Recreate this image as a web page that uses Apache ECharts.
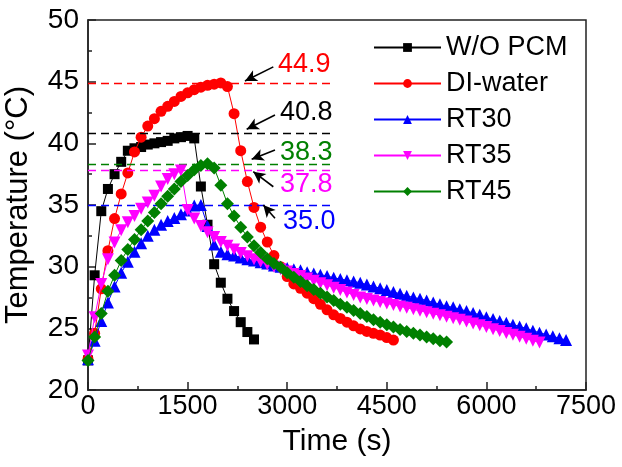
<!DOCTYPE html>
<html><head><meta charset="utf-8">
<script src="https://cdn.jsdelivr.net/npm/echarts@6/dist/echarts.min.js"></script>
<style>html,body{margin:0;padding:0;background:#fff}#c{width:622px;height:467px}</style>
</head><body><div id="c"></div>
<script>
// ---- data ----
const STEP_S = 100; // sampling interval (s)
const seriesNames = ['W/O PCM', 'DI-water', 'RT30', 'RT35', 'RT45'];
const woPCM = [22.4, 29.3, 34.5, 36.3, 37.5, 38.5, 39.4, 39.6, 39.7, 39.9, 40.0, 40.1, 40.2, 40.4, 40.5, 40.6, 40.4, 36.5, 33.4, 30.2, 28.7, 27.4, 26.4, 25.5, 24.7, 24.1];
const diWater = [22.5, 24.6, 28.2, 31.3, 33.9, 35.9, 37.6, 39.3, 40.5, 41.4, 42.0, 42.6, 43.0, 43.4, 43.8, 44.1, 44.35, 44.55, 44.7, 44.8, 44.9, 44.6, 42.4, 39.4, 36.9, 34.8, 33.2, 32.0, 30.9, 30.0, 29.2, 28.6, 28.25, 27.85, 27.4, 26.95, 26.5, 26.1, 25.8, 25.5, 25.2, 24.95, 24.75, 24.6, 24.45, 24.25, 24.05];
const rt30 = [22.5, 24.0, 25.6, 27.1, 28.4, 29.5, 30.4, 31.2, 31.9, 32.5, 33.0, 33.4, 33.7, 33.95, 34.25, 34.55, 34.95, 35.0, 33.3, 31.8, 31.2, 31.0, 30.9, 30.75, 30.6, 30.5, 30.35, 30.25, 30.1, 30.0, 29.9, 29.8, 29.7, 29.55, 29.45, 29.35, 29.25, 29.1, 29.0, 28.9, 28.8, 28.7, 28.55, 28.4, 28.25, 28.1, 27.95, 27.8, 27.65, 27.5, 27.4, 27.25, 27.1, 26.95, 26.8, 26.7, 26.55, 26.4, 26.25, 26.1, 25.9, 25.75, 25.6, 25.45, 25.3, 25.15, 25.0, 24.8, 24.65, 24.5, 24.35, 24.2, 24.05];
const rt35 = [22.8, 25.9, 28.6, 30.6, 31.95, 32.95, 33.6, 34.1, 34.7, 35.2, 35.75, 36.5, 37.1, 37.5, 37.8, 34.6, 33.9, 33.3, 32.8, 32.4, 32.0, 31.7, 31.4, 31.1, 30.85, 30.6, 30.4, 30.2, 30.0, 29.8, 29.6, 29.4, 29.25, 29.05, 28.85, 28.65, 28.5, 28.3, 28.1, 27.9, 27.7, 27.5, 27.38, 27.26, 27.14, 27.02, 26.9, 26.78, 26.66, 26.54, 26.42, 26.3, 26.18, 26.06, 25.94, 25.82, 25.7, 25.55, 25.4, 25.25, 25.1, 24.93, 24.78, 24.62, 24.47, 24.32, 24.16, 24.0, 23.85];
const rt45 = [22.4, 24.3, 26.2, 28.0, 29.3, 30.5, 31.4, 32.2, 33.0, 33.7, 34.4, 35.1, 35.7, 36.3, 36.9, 37.4, 37.85, 38.2, 38.35, 38.0, 36.6, 35.1, 34.1, 33.2, 32.4, 31.7, 31.15, 30.65, 30.25, 29.95, 29.5, 29.15, 28.8, 28.45, 28.15, 27.85, 27.55, 27.25, 26.95, 26.7, 26.45, 26.2, 25.95, 25.7, 25.5, 25.3, 25.1, 24.9, 24.75, 24.6, 24.45, 24.3, 24.15, 24.0, 23.9];
const xTicks = [0, 1500, 3000, 4500, 6000, 7500];
const yTicks = [20, 25, 30, 35, 40, 45, 50];
const peakLabels = ['44.9', '40.8', '38.3', '37.8', '35.0'];
const peakValues = [44.9, 40.8, 38.3, 37.8, 35.0];
const dashEnd = 3650;

// ---- styling ----
const FONT = 'Liberation Sans, Arial, sans-serif';
const colors = ['#000000', '#ff0000', '#0000ff', '#ff00ff', '#008000'];
const peakColors = ['#ff0000', '#000000', '#008000', '#ff00ff', '#0000ff'];
const symbols = ['rect', 'circle', 'triangle', 'triangle', 'diamond'];
const symRot = [0, 0, 0, 180, 0];
const symSize = [10, 11, 12, 12, 13];
const allData = [woPCM, diWater, rt30, rt35, rt45];
// arrow tail/head in data coords, label anchor in data coords
const arrows = [
  [[2791, 46.2], [2364, 45.06]],
  [[2816, 42.3], [2390, 41.14]],
  [[2816, 39.46], [2465, 38.7]],
  [[2791, 36.48], [2489, 37.7]],
  [[2816, 33.92], [2640, 35.0]]
];
const labelPos = [[2861, 46.35], [2892, 42.46], [2892, 39.22], [2892, 36.62], [2937, 33.65]];

const series = allData.map((vals, k) => ({
  name: seriesNames[k],
  type: 'line',
  data: vals.map((v, i) => [i * STEP_S, v]),
  symbol: symbols[k],
  symbolRotate: symRot[k],
  symbolSize: symSize[k],
  showAllSymbol: true,
  itemStyle: { color: colors[k] },
  lineStyle: { color: colors[k], width: 1 },
  z: 3 + k
}));

series.push({
  name: 'annot',
  type: 'scatter',
  data: [],
  silent: true,
  markLine: {
    silent: true,
    animation: false,
    label: { show: false },
    data: peakValues.map((v, k) => [
      { coord: [0, v], symbol: 'none', lineStyle: { color: peakColors[k], type: [8, 5], width: 1.3 } },
      { coord: [dashEnd, v], symbol: 'none' }
    ]).concat(arrows.map(a => [
      { coord: a[0], symbol: 'none', lineStyle: { color: '#000', type: 'solid', width: 1.6 } },
      { coord: a[1], symbol: 'arrow', symbolSize: [9, 12] }
    ]))
  },
  markPoint: {
    silent: true,
    animation: false,
    symbol: 'circle',
    symbolSize: 0,
    data: labelPos.map((p, k) => ({
      coord: p,
      label: {
        show: true, formatter: peakLabels[k], position: 'right', distance: 0,
        color: peakColors[k], fontSize: 27, fontFamily: FONT
      }
    }))
  }
});

const chart = echarts.init(document.getElementById('c'), null, { renderer: 'canvas' });
chart.setOption({
  animation: false,
  backgroundColor: '#fff',
  grid: { left: 88, right: 36, top: 20, bottom: 77, show: true, borderColor: '#222', borderWidth: 1.5, backgroundColor: 'transparent', containLabel: false, outerBoundsMode: 'none' },
  legend: {
    data: seriesNames,
    orient: 'vertical',
    left: 368, top: 29,
    itemWidth: 67, itemHeight: 11, itemGap: 9,
    textStyle: { fontSize: 27, fontFamily: FONT, color: '#000', lineHeight: 27 }
  },
  xAxis: {
    type: 'value', min: xTicks[0], max: xTicks[xTicks.length - 1], interval: xTicks[1] - xTicks[0],
    name: 'Time (s)', nameLocation: 'middle', nameGap: 37,
    nameTextStyle: { fontSize: 30, fontFamily: FONT, color: '#000' },
    axisLine: { lineStyle: { color: '#222', width: 1.5 } },
    axisTick: { inside: true, length: 8, lineStyle: { color: '#222', width: 1.5 } },
    minorTick: { show: true, splitNumber: 2, length: 4, lineStyle: { color: '#222', width: 1.5 } },
    splitLine: { show: false },
    axisLabel: { fontSize: 27, fontFamily: FONT, color: '#000', margin: 3, formatter: v => String(v) }
  },
  yAxis: {
    type: 'value', min: yTicks[0], max: yTicks[yTicks.length - 1], interval: yTicks[1] - yTicks[0],
    name: 'Temperature (°C)', nameLocation: 'middle', nameGap: 54,
    nameTextStyle: { fontSize: 31, fontFamily: FONT, color: '#000' },
    axisLine: { show: true, lineStyle: { color: '#222', width: 1.5 } },
    axisTick: { show: true, inside: true, length: 8, lineStyle: { color: '#222', width: 1.5 } },
    minorTick: { show: true, splitNumber: 2, length: 4, lineStyle: { color: '#222', width: 1.5 } },
    splitLine: { show: false },
    axisLabel: { fontSize: 28, fontFamily: FONT, color: '#000', margin: 9, formatter: v => String(v) }
  },
  series: series
});
</script></body></html>
